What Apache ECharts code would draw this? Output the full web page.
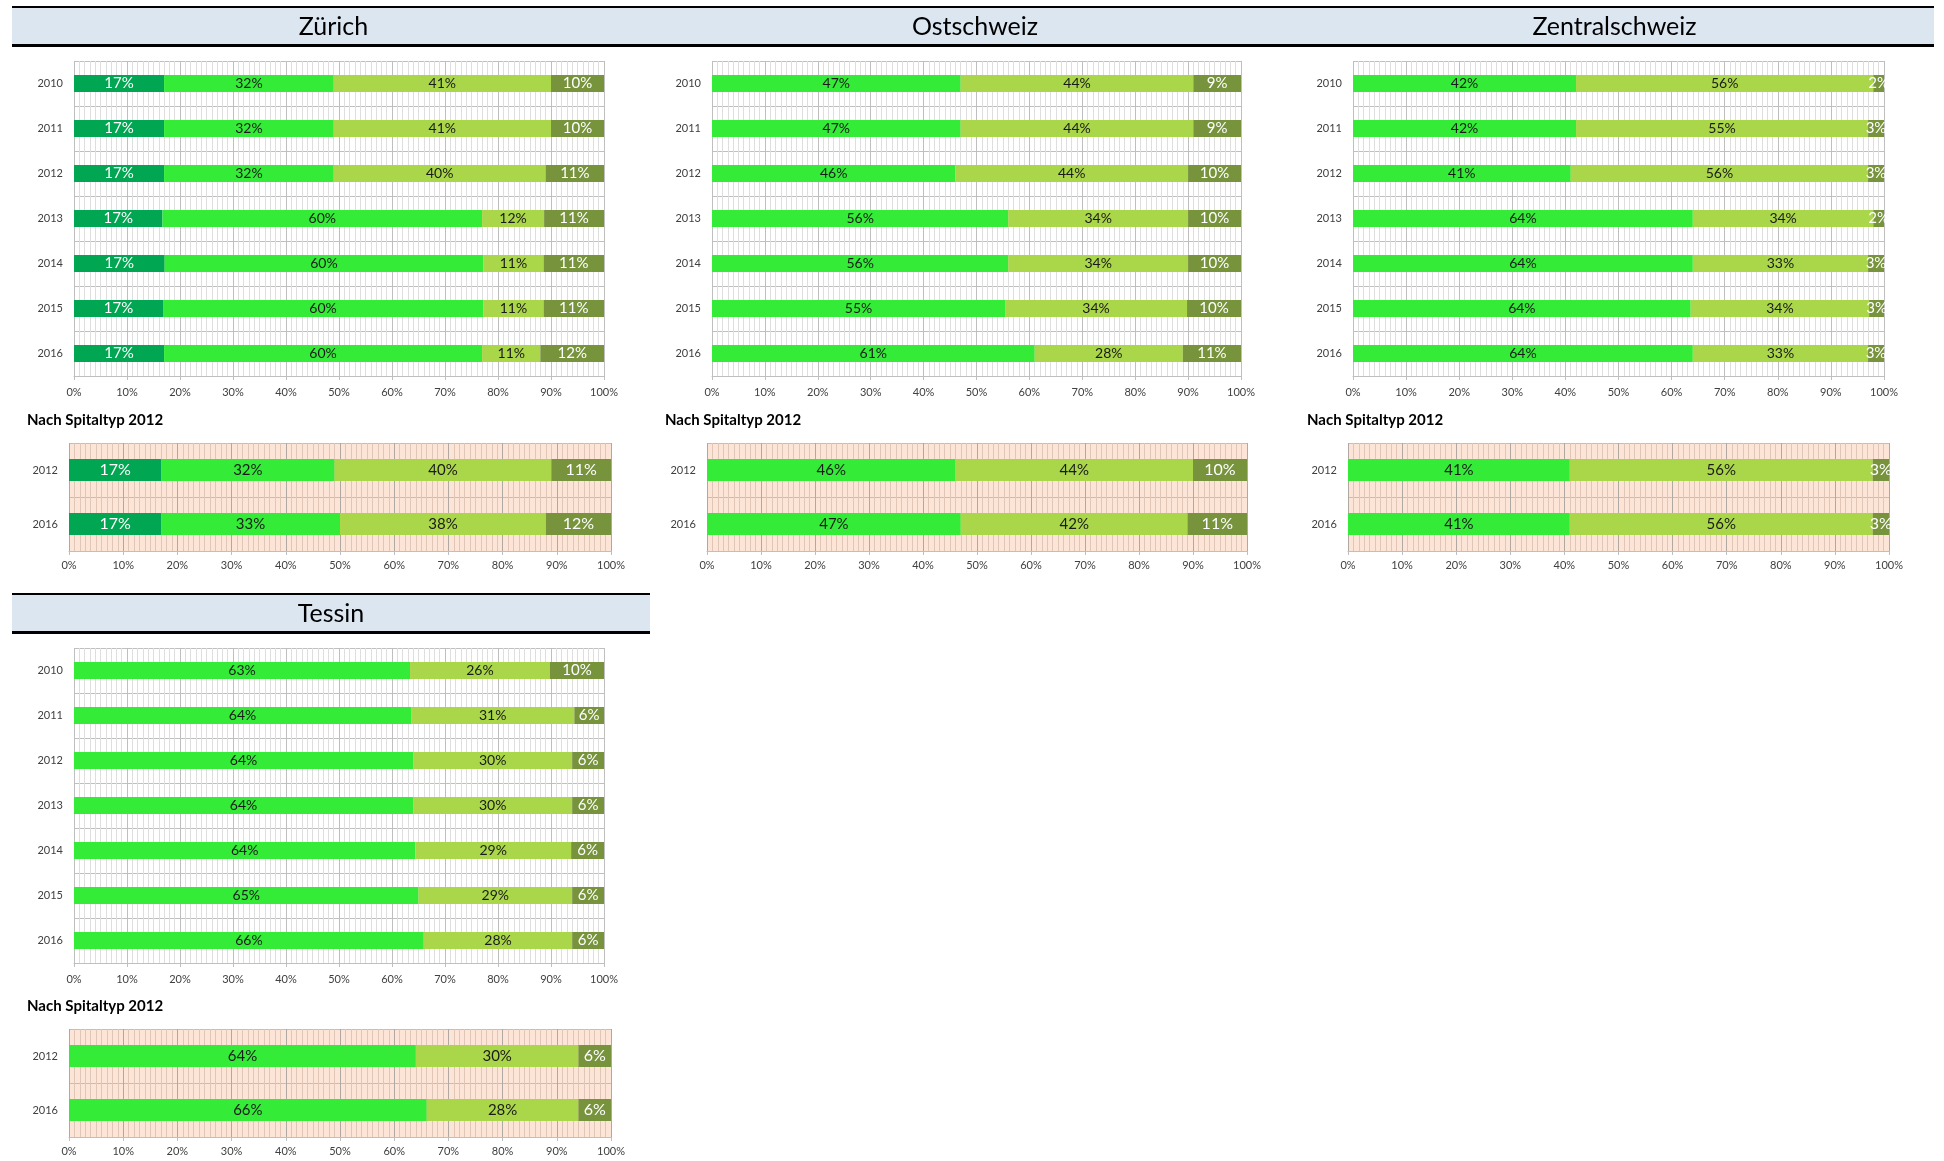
<!DOCTYPE html>
<html>
<head>
<meta charset="utf-8">
<script src="https://cdn.jsdelivr.net/npm/echarts@6/dist/echarts.min.js"></script>
<style>
  html, body { margin: 0; padding: 0; background: #fff; }
  #main { width: 1944px; height: 1161px; }
</style>
</head>
<body>
<div id="main"></div>
<script>
// Kategorien
var years7 = ['2010', '2011', '2012', '2013', '2014', '2015', '2016'];
var years2 = ['2012', '2016'];

// Zürich (4 Segmente)
var zhTop1 = [17, 17, 17, 16.7, 17.1, 16.8, 17];
var zhTop2 = [32, 32, 32, 60.3, 60.1, 60.4, 60];
var zhTop3 = [41, 41, 40, 11.7, 11.4, 11.4, 11];
var zhTop4 = [10, 10, 11, 11.3, 11.4, 11.4, 12];
var zhLow1 = [17, 17];
var zhLow2 = [32, 33];
var zhLow3 = [40, 38];
var zhLow4 = [11, 12];

// Ostschweiz
var osTop2 = [47, 47, 46, 56, 56, 55.4, 61];
var osTop3 = [44, 44, 44, 34, 34, 34.4, 28];
var osTop4 = [9, 9, 10, 10, 10, 10.2, 11];
var osLow2 = [46, 47];
var osLow3 = [44, 42];
var osLow4 = [10, 11];

// Zentralschweiz
var zsTop2 = [42, 42, 41, 64, 64, 63.6, 64];
var zsTop3 = [56, 55, 56, 34, 33, 33.6, 33];
var zsTop4 = [2, 3, 3, 2, 3, 2.8, 3];
var zsLow2 = [41, 41];
var zsLow3 = [56, 56];
var zsLow4 = [3, 3];

// Tessin
var tiTop2 = [63.4, 63.6, 64, 64, 64.4, 65, 66];
var tiTop3 = [26.4, 30.8, 30, 30, 29.4, 29, 28];
var tiTop4 = [10.2, 5.6, 6, 6, 6.2, 6, 6];
var tiLow2 = [64, 66];
var tiLow3 = [30, 28];
var tiLow4 = [6, 6];

var FONT = 'Lato, "DejaVu Sans", sans-serif';
var C1 = '#00a651', C2 = '#34ec38', C3 = '#aad64a', C4 = '#77933c';
var DARK = '#1a1a1a', WHITE = '#ffffff';

var option = {
    backgroundColor: '#ffffff',
    animation: false,
    grid: [], xAxis: [], yAxis: [], series: [],
    graphic: []
};

function addPanel(cfg) {
    var gi = option.grid.length;
    option.grid.push({
        left: cfg.left, top: cfg.top, width: cfg.width, height: cfg.height,
        show: true, backgroundColor: cfg.bg, borderWidth: 0
    });
    option.xAxis.push({
        gridIndex: gi, type: 'value', min: 0, max: 100, interval: 10,
        axisLabel: { formatter: '{value}%', fontSize: 11, color: '#404040', margin: cfg.xMargin, fontFamily: FONT },
        axisLine: { show: true, lineStyle: { color: '#bfbfbf' } },
        axisTick: { show: true, length: 4, lineStyle: { color: '#bfbfbf' } },
        splitLine: { show: true, lineStyle: { color: cfg.major } },
        minorTick: { show: false, splitNumber: 10 },
        minorSplitLine: { show: true, lineStyle: { color: cfg.minor } }
    });
    option.yAxis.push({
        gridIndex: gi, type: 'category', data: cfg.cats, inverse: true,
        axisLine: { show: false }, axisTick: { show: false },
        axisLabel: { fontSize: 11, color: '#404040', margin: 11, fontFamily: FONT },
        splitLine: { show: true, lineStyle: { color: '#bfbfbf' } }
    });
    cfg.values.forEach(function (vals, k) {
        var white = cfg.labelColors[k] === WHITE;
        option.series.push({
            type: 'bar', stack: 'st' + gi, xAxisIndex: gi, yAxisIndex: gi,
            data: vals, barWidth: cfg.barWidth,
            itemStyle: { color: cfg.colors[k] },
            label: {
                show: true, position: 'inside',
                formatter: function (p) { return Math.round(p.value) + '%'; },
                color: cfg.labelColors[k], fontSize: white ? cfg.fs + 1 : cfg.fs, fontFamily: FONT
            }
        });
    });
}

function header(x, y, w, text) {
    option.graphic.push(
        { type: 'rect', silent: true, shape: { x: x, y: y + 2, width: w, height: 36 }, style: { fill: '#dce6f1' } },
        { type: 'rect', silent: true, shape: { x: x, y: y, width: w, height: 2 }, style: { fill: '#000' } },
        { type: 'rect', silent: true, shape: { x: x, y: y + 38, width: w, height: 3 }, style: { fill: '#000' } },
        { type: 'text', silent: true, x: x + w / 2, y: y + 21,
          style: { text: text, fill: '#000', font: '25px ' + FONT, textAlign: 'center', textVerticalAlign: 'middle' } }
    );
}

function subtitle(x, y) {
    option.graphic.push({
        type: 'text', silent: true, x: x, y: y,
        style: { text: 'Nach Spitaltyp 2012', fill: '#000', font: 'bold 15px ' + FONT, textVerticalAlign: 'middle' }
    });
}

var top4 = { colors: [C1, C2, C3, C4], labelColors: [WHITE, DARK, DARK, WHITE] };
var top3 = { colors: [C2, C3, C4], labelColors: [DARK, DARK, WHITE] };

function topPanel(left, top, width, set, values) {
    addPanel({ left: left, top: top, width: width, height: 315, cats: years7, values: values,
        colors: set.colors, labelColors: set.labelColors, bg: '#ffffff',
        major: '#bfbfbf', minor: '#dedede', barWidth: 17, fs: 14, xMargin: 11 });
}
function lowPanel(left, top, width, set, values) {
    addPanel({ left: left, top: top, width: width, height: 108, cats: years2, values: values,
        colors: set.colors, labelColors: set.labelColors, bg: '#fce4d6',
        major: '#b0a8a3', minor: '#dfc6b7', barWidth: 22, fs: 15, xMargin: 9 });
}

// Kopfzeilen
header(12, 6, 643, 'Zürich');
header(655, 6, 640, 'Ostschweiz');
header(1295, 6, 639, 'Zentralschweiz');
header(12, 593, 638, 'Tessin');

subtitle(27, 420);
subtitle(665, 420);
subtitle(1307, 420);
subtitle(27, 1006);

// Diagramme
topPanel(74, 61, 530, top4, [zhTop1, zhTop2, zhTop3, zhTop4]);
topPanel(712, 61, 529, top3, [osTop2, osTop3, osTop4]);
topPanel(1353, 61, 531, top3, [zsTop2, zsTop3, zsTop4]);
topPanel(74, 648, 530, top3, [tiTop2, tiTop3, tiTop4]);

lowPanel(69, 443, 542, top4, [zhLow1, zhLow2, zhLow3, zhLow4]);
lowPanel(707, 443, 540, top3, [osLow2, osLow3, osLow4]);
lowPanel(1348, 443, 541, top3, [zsLow2, zsLow3, zsLow4]);
lowPanel(69, 1029, 542, top3, [tiLow2, tiLow3, tiLow4]);

var chart = echarts.init(document.getElementById('main'));
chart.setOption(option);
</script>
</body>
</html>
